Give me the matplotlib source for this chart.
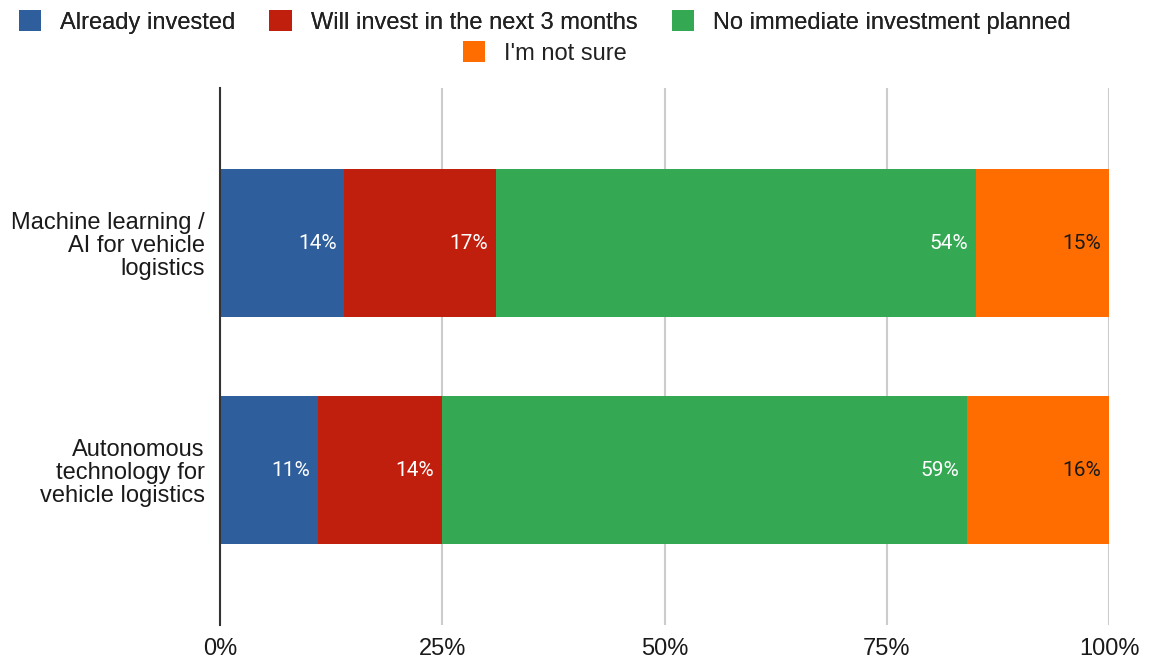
import numpy as np
import matplotlib
matplotlib.use("Agg")
import matplotlib.pyplot as plt
from matplotlib.patches import Patch

plt.rcParams['font.family'] = ['Liberation Sans', 'DejaVu Sans']

# survey answers, percent of respondents
categories = ["Machine learning /\nAI for vehicle\nlogistics",
              "Autonomous\ntechnology for\nvehicle logistics"]
series = ["Already invested", "Will invest in the next 3 months",
          "No immediate investment planned", "I'm not sure"]
already = [14, 11]
next_3m = [17, 14]
no_plan = [54, 59]
not_sure = [15, 16]
x_ticks = [0, 25, 50, 75, 100]
x_tick_labels = ["0%", "25%", "50%", "75%", "100%"]

colors = ["#2e5e9b", "#c01f0e", "#35a853", "#ff6d01"]
label_colors = ["white", "white", "white", "#1a1a1a"]

fig = plt.figure(figsize=(11.49, 6.6), dpi=100)
ax = fig.add_axes([0.1915, 0.053, 0.7737, 0.8136])

y = np.arange(len(categories))
left = np.zeros(len(categories))
for name, vals, c, lc in zip(series, [already, next_3m, no_plan, not_sure], colors, label_colors):
    vals = np.array(vals, dtype=float)
    ax.barh(y, vals, left=left, height=0.652, color=c, label=name, zorder=2)
    for yi, l, v in zip(y, left, vals):
        ax.annotate(f"{v:.0f}%", xy=(l + v, yi), xytext=(-8, 0), textcoords="offset pixels",
                    ha="right", va="center", color=lc, fontsize=15, family="Roboto",
                    zorder=3)
    left += vals

ax.set_xlim(0, 100)
ax.set_ylim(1.683, -0.683)
ax.set_yticks(y)
ax.set_yticklabels(categories, fontsize=17, linespacing=1.05, ha="right")
ax.set_xticks(x_ticks)
ax.set_xticklabels(x_tick_labels, fontsize=17)
ax.tick_params(axis="both", length=0, colors="#1a1a1a")
ax.tick_params(axis="y", pad=11)
ax.tick_params(axis="x", pad=9)

ax.xaxis.grid(True, color="#cccccc", linewidth=1.5)
ax.set_axisbelow(True)
for s in ["top", "right", "bottom"]:
    ax.spines[s].set_visible(False)
ax.spines["left"].set_color("#333333")
ax.spines["left"].set_linewidth(1.5)
ax.spines["left"].set_zorder(4)

handles = [Patch(facecolor=c, edgecolor="none") for c in colors]
leg_kw = dict(frameon=False, fontsize=17, handlelength=0.95, handleheight=0.95,
              handletextpad=0.8, columnspacing=1.45, borderpad=0, loc="center",
              labelcolor="#222222")
leg1 = fig.legend(handles[:3], series[:3], ncol=3, bbox_to_anchor=(0.474, 1 - 22 / 660), **leg_kw)
fig.add_artist(leg1)
fig.legend(handles[3:], series[3:], ncol=1, bbox_to_anchor=(0.474, 1 - 53 / 660), **leg_kw)

fig.savefig("out.png", dpi=100)
